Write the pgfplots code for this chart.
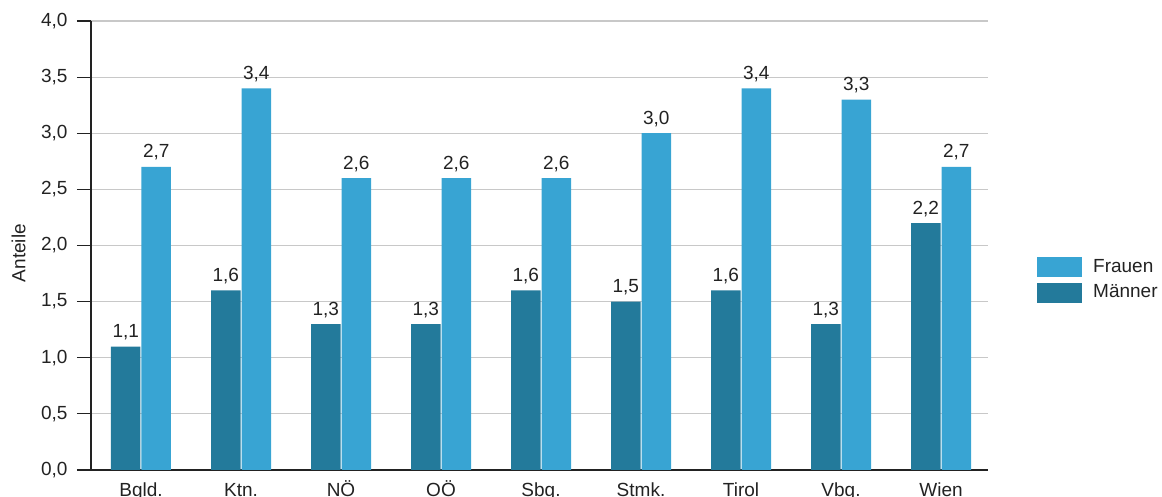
\documentclass[border=0pt]{standalone}
\usepackage{pgfplots}
\pgfplotsset{compat=1.18}
\usepackage{fontspec}
\setmainfont{Liberation Sans}
\definecolor{frauen}{HTML}{38A4D3}
\definecolor{maenner}{HTML}{237A9B}
\definecolor{txt}{HTML}{222222}
\definecolor{gridc}{HTML}{C8C8C8}
\newcommand{\ff}{\fontsize{19pt}{22pt}\selectfont}
\begin{document}
\begin{tikzpicture}
\ff
\begin{axis}[
  scale only axis,
  width=897pt, height=449pt,
  xmin=-0.5, xmax=8.47,
  ymin=0, ymax=4,
  axis x line*=bottom, axis y line*=left,
  axis line style={draw=txt, line width=1.2pt, -},
  ytick={0,0.5,...,4},
  ymajorgrids, grid style={gridc, line width=1.2pt},
  tick align=outside,
  major tick length=14pt,
  ytick style={draw=txt, line width=1.2pt},
  xtick style={draw=none},
  xtick=data,
  xticklabels={Bgld.,Ktn.,NÖ,OÖ,Sbg.,Stmk.,Tirol,Vbg.,Wien},
  yticklabel style={/pgf/number format/.cd, fixed, fixed zerofill, precision=1, use comma, /tikz/.cd, xshift=-3pt},
  /pgf/number format/assume math mode=true,
  tick label style={font=\ff, text=txt},
  xticklabel style={text height=17pt, text depth=4pt, anchor=north, yshift=11pt},
  ylabel={Anteile},
  ylabel style={font=\ff, text=txt, at={(axis description cs:-0.0808,0.483)}, anchor=center},
  ybar=1pt, bar width=29.5pt,
  nodes near coords,
  nodes near coords style={font=\ff, text=txt, /pgf/number format/.cd, fixed, fixed zerofill, precision=1, use comma, assume math mode=true},
  every axis plot/.append style={draw=none},
  legend style={at={(1.0546,0.423)}, anchor=west, draw=none, fill=none, inner sep=0pt,
    font=\ff, text=txt, row sep=5.5pt,
    nodes={inner sep=0pt, text height=14pt, text depth=4pt},
    /tikz/every odd column/.append style={column sep=11pt}},
  legend cell align=left,
  reverse legend,
  legend image code/.code={\fill[#1] (0pt,-10pt) rectangle (45pt,10pt);},
  clip=false,
]
\addplot[fill=maenner] coordinates {(0,1.1) (1,1.6) (2,1.3) (3,1.3) (4,1.6) (5,1.5) (6,1.6) (7,1.3) (8,2.2)};
\addlegendentry{Männer}
\addplot[fill=frauen] coordinates {(0,2.7) (1,3.4) (2,2.6) (3,2.6) (4,2.6) (5,3.0) (6,3.4) (7,3.3) (8,2.7)};
\addlegendentry{Frauen}
\coordinate (O) at (rel axis cs:0,0);
\end{axis}
\pgfresetboundingbox
\path[use as bounding box] ([shift={(-91pt,-27pt)}]O) rectangle ([shift={(1071pt,470pt)}]O);
\end{tikzpicture}
\end{document}
